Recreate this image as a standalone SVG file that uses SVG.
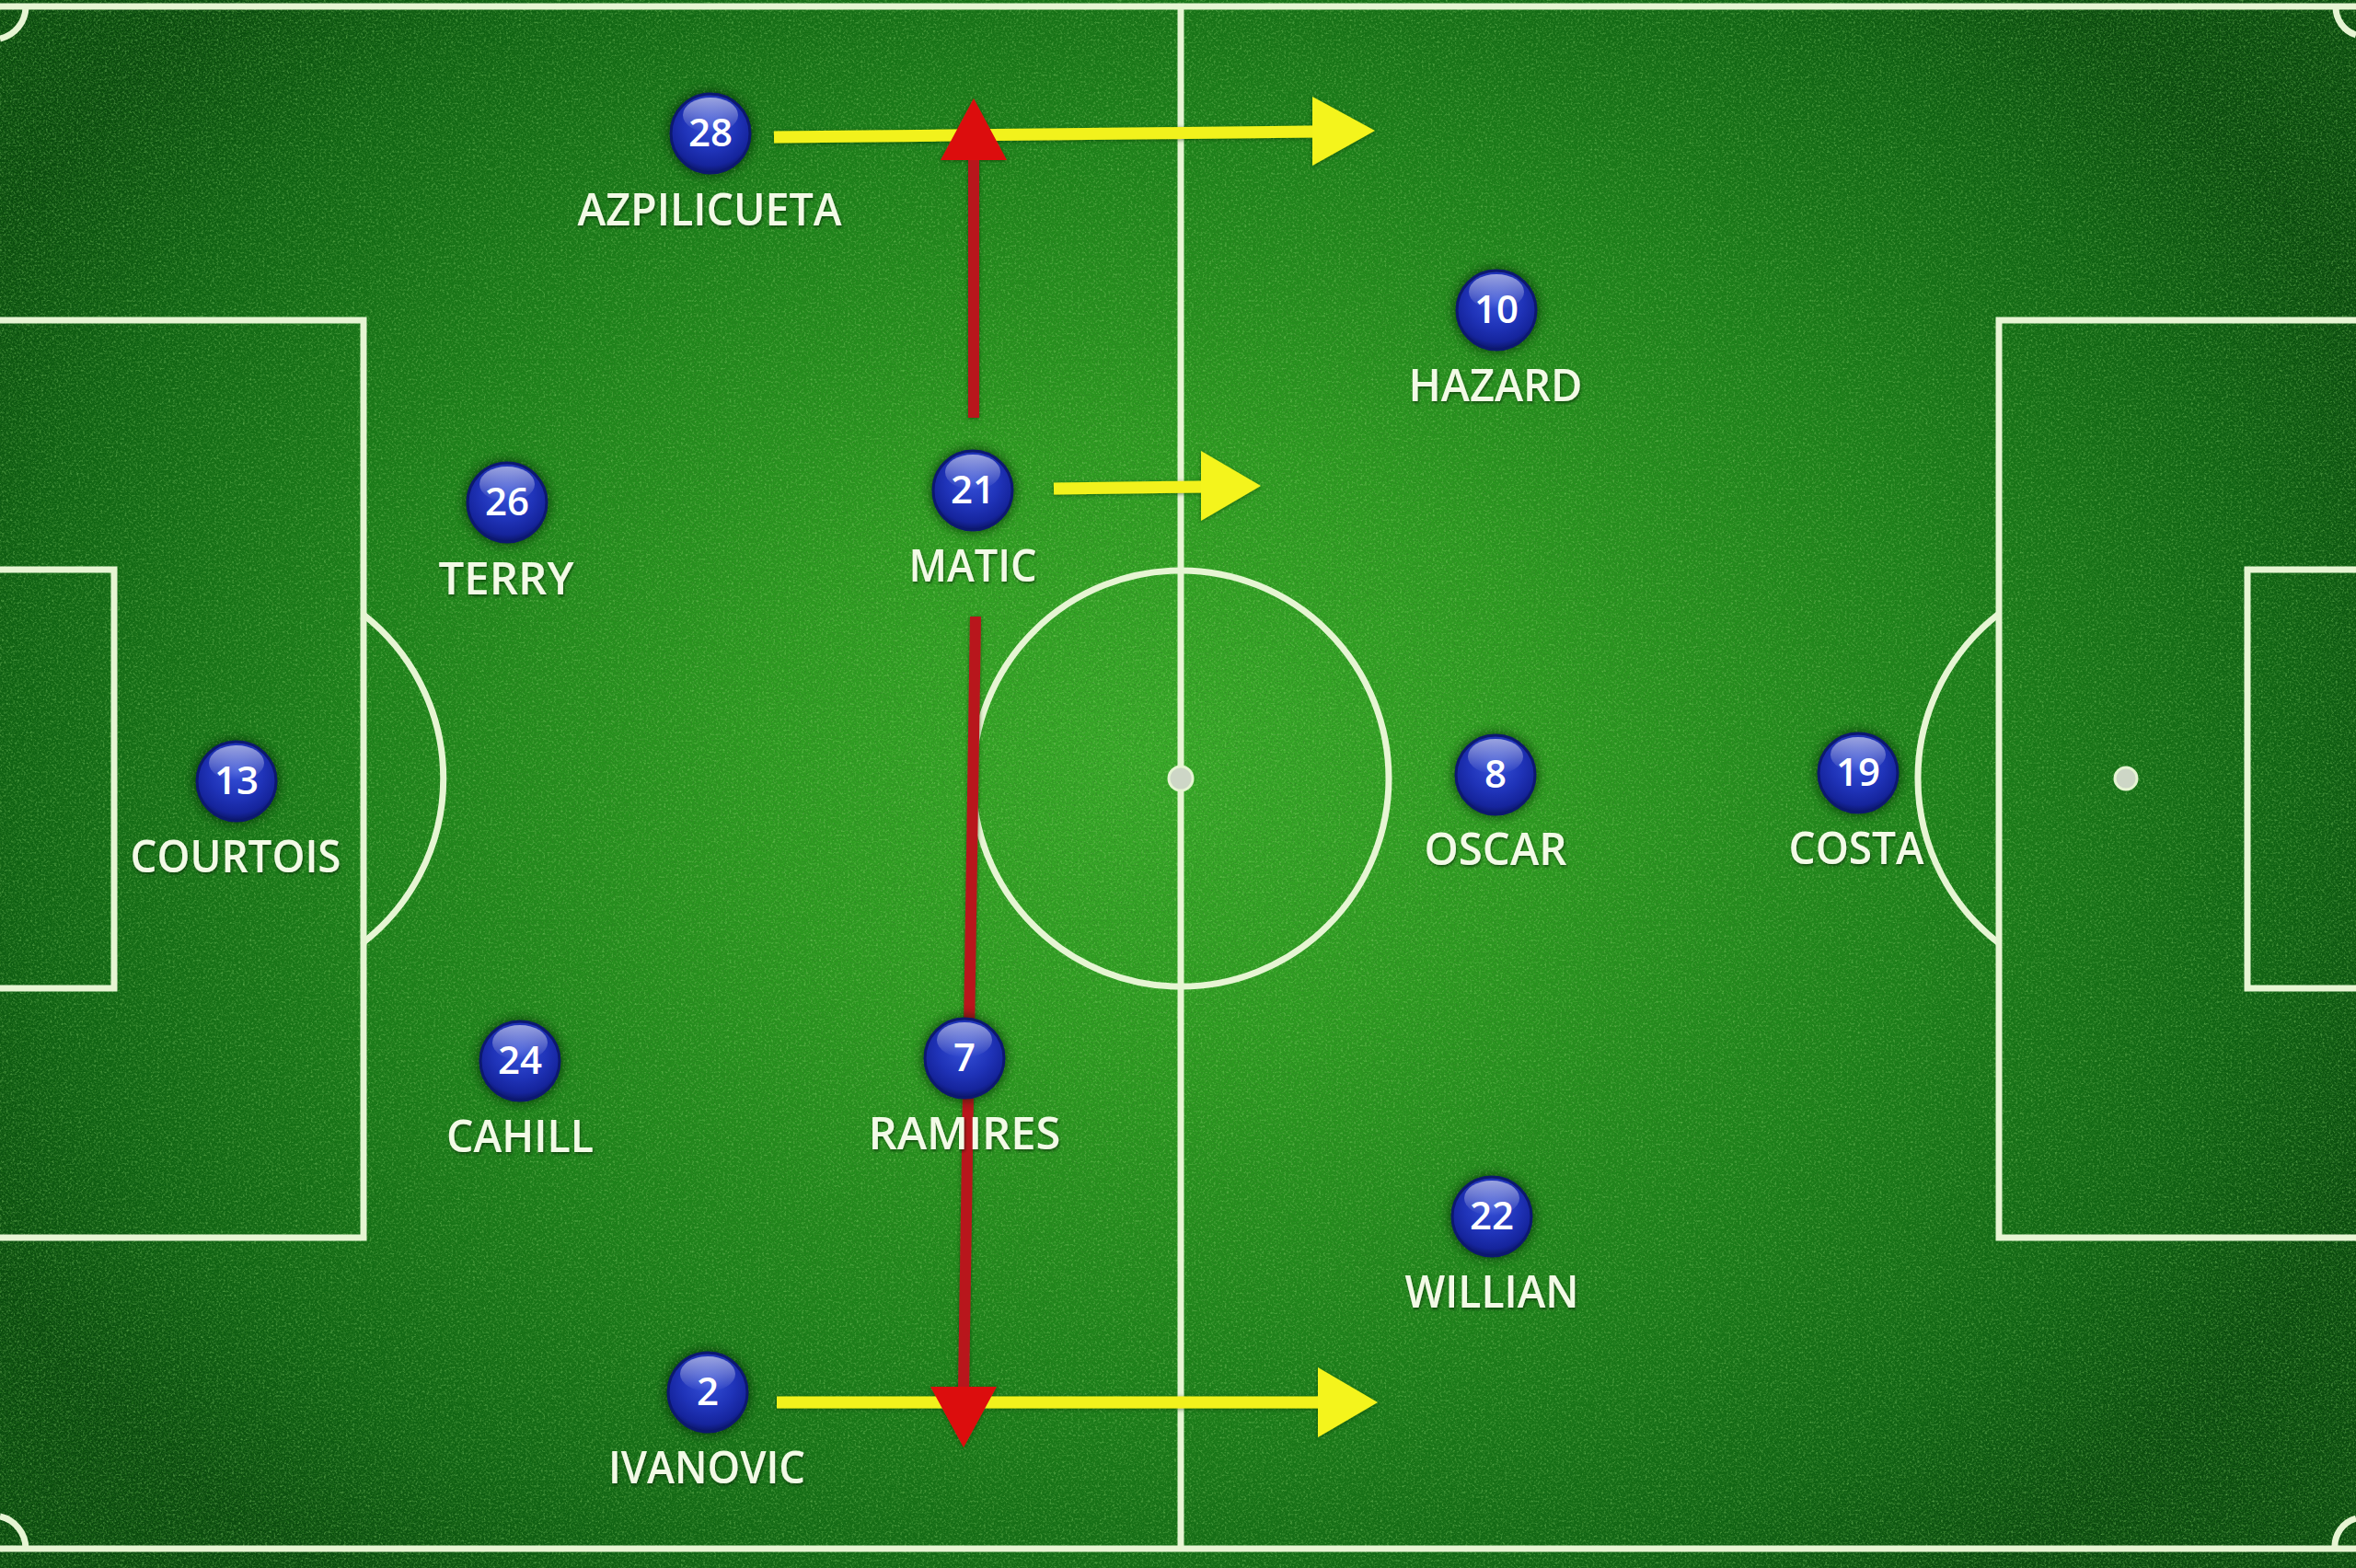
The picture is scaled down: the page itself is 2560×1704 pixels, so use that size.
<svg xmlns="http://www.w3.org/2000/svg" xmlns:xlink="http://www.w3.org/1999/xlink" width="2560" height="1704" viewBox="0 0 2560 1704">
<defs>
  <radialGradient id="grass" gradientUnits="userSpaceOnUse" cx="1250" cy="820" r="1450" gradientTransform="translate(1250 820) scale(1 0.78) translate(-1250 -820)">
    <stop offset="0" stop-color="#38aa28"/>
    <stop offset="0.3" stop-color="#2c9a20"/>
    <stop offset="0.6" stop-color="#1b7f19"/>
    <stop offset="0.85" stop-color="#0f6213"/>
    <stop offset="1" stop-color="#0a4a0e"/>
  </radialGradient>
  <filter id="grain" x="0" y="0" width="100%" height="100%" filterUnits="userSpaceOnUse">
    <feTurbulence type="fractalNoise" baseFrequency="0.55" numOctaves="2" seed="7" result="n"/>
    <feColorMatrix in="n" type="matrix" values="0 0 0 0 0.03  0 0 0 0 0.22  0 0 0 0 0.02  2.4 0 0 0 -1.05"/>
  </filter>
  <filter id="grain2" x="0" y="0" width="100%" height="100%" filterUnits="userSpaceOnUse">
    <feTurbulence type="fractalNoise" baseFrequency="0.42" numOctaves="2" seed="21" result="n"/>
    <feColorMatrix in="n" type="matrix" values="0 0 0 0 0.4  0 0 0 0 0.85  0 0 0 0 0.25  2.6 0 0 0 -1.3"/>
  </filter>
  <radialGradient id="ballGrad" cx="0.5" cy="0.38" r="0.62">
    <stop offset="0" stop-color="#3550d8"/>
    <stop offset="0.55" stop-color="#1f33b8"/>
    <stop offset="0.85" stop-color="#15249c"/>
    <stop offset="1" stop-color="#0b1668"/>
  </radialGradient>
  <linearGradient id="hl" x1="0" y1="0" x2="0" y2="1">
    <stop offset="0" stop-color="#ffffff" stop-opacity="0.55"/>
    <stop offset="1" stop-color="#ffffff" stop-opacity="0"/>
  </linearGradient>
  <filter id="blur6" x="-50%" y="-50%" width="200%" height="200%">
    <feGaussianBlur stdDeviation="5"/>
  </filter>
  <filter id="ts" x="-10%" y="-30%" width="120%" height="160%">
    <feDropShadow dx="1" dy="2" stdDeviation="1.5" flood-color="#002000" flood-opacity="0.6"/>
  </filter>
  <filter id="as" x="-10%" y="-10%" width="120%" height="120%">
    <feDropShadow dx="0" dy="1" stdDeviation="2" flood-color="#003000" flood-opacity="0.6"/>
  </filter>
  <g id="ball">
    <circle r="48" fill="#021a05" opacity="0.45" filter="url(#blur6)"/>
    <circle r="43" fill="url(#ballGrad)" stroke="#0c1870" stroke-width="3"/>
    <ellipse cx="0" cy="-20" rx="30" ry="19" fill="url(#hl)"/>
  </g>
  <style>
    .line { fill: none; stroke: #e6f5d3; stroke-width: 7; }
    .num { font-family: "Open Sans", "Noto Sans", sans-serif; font-weight: 600; font-size: 42px; fill: #ffffff; text-anchor: middle; }
    .name { font-family: "Open Sans", "Noto Sans", sans-serif; font-weight: 600; font-size: 49px; fill: #f2fae6; text-anchor: middle; }
    .yl { stroke: #f2f21a; stroke-width: 13; fill: none; }
    .yh { fill: #f4f41c; }
    .rl { stroke: #b8141c; stroke-width: 12; fill: none; }
    .rh { fill: #dc0a0e; }
  </style>
</defs>

<!-- pitch -->
<g id="pitch">
  <rect x="0" y="0" width="2560" height="1704" fill="url(#grass)"/>
  <rect x="0" y="0" width="2560" height="1704" filter="url(#grain)" opacity="0.65"/>
  <rect x="0" y="0" width="2560" height="1704" filter="url(#grain2)" opacity="0.4"/>
  <line class="line" x1="0" y1="7" x2="2560" y2="7"/>
  <line class="line" x1="0" y1="1683" x2="2560" y2="1683"/>
  <line class="line" x1="1283" y1="7" x2="1283" y2="1683"/>
  <circle class="line" cx="1283" cy="846" r="226"/>
  <circle cx="1283" cy="846" r="13" fill="#cdd6c6" stroke="#e6f5d3" stroke-width="3"/>
  <path class="line" d="M0 348 H395 V1345 H0"/>
  <path class="line" d="M0 619 H124 V1074 H0"/>
  <path class="line" d="M395 668 A226 226 0 0 1 395 1024"/>
  <path class="line" d="M2560 348 H2172 V1345 H2560"/>
  <path class="line" d="M2560 619 H2442 V1074 H2560"/>
  <path class="line" d="M2172 667 A226 226 0 0 0 2172 1025"/>
  <circle cx="2310" cy="846" r="12" fill="#cdd6c6" stroke="#e6f5d3" stroke-width="3"/>
  <path class="line" d="M28 7 A36 36 0 0 1 0 42"/>
  <path class="line" d="M2538 7 A32 32 0 0 0 2560 38"/>
  <path class="line" d="M0 1648 A36 36 0 0 1 28 1683"/>
  <path class="line" d="M2560 1650 A32 32 0 0 0 2537 1683"/>
</g>

<!-- connectors -->
<g id="connectors" filter="url(#as)">
  <line class="yl" x1="841" y1="149" x2="1430" y2="143"/>
  <polygon class="yh" points="1426,105 1494,142 1426,180"/>
  <line class="yl" x1="1145" y1="531" x2="1308" y2="529"/>
  <polygon class="yh" points="1305,490 1370,528 1305,566"/>
  <line class="yl" x1="844" y1="1524" x2="1435" y2="1524"/>
  <polygon class="yh" points="1432,1486 1497,1524 1432,1562"/>
  <line class="rl" x1="1058" y1="454" x2="1058" y2="170"/>
  <polygon class="rh" points="1022,174 1058,107 1094,174"/>
  <line class="rl" x1="1060" y1="670" x2="1047" y2="1512"/>
  <polygon class="rh" points="1011,1507 1083,1507 1047,1573"/>
</g>

<!-- players -->
<g id="p28"><use href="#ball" x="772" y="145"/><text class="num" x="772" y="159">28</text><text class="name" x="771" y="245" textLength="287" lengthAdjust="spacingAndGlyphs" filter="url(#ts)">AZPILICUETA</text></g>
<g id="p10"><use href="#ball" x="1626" y="337"/><text class="num" x="1626" y="351">10</text><text class="name" x="1625" y="436" textLength="189" lengthAdjust="spacingAndGlyphs" filter="url(#ts)">HAZARD</text></g>
<g id="p26"><use href="#ball" x="551" y="546"/><text class="num" x="551" y="560">26</text><text class="name" x="550" y="646" textLength="147" lengthAdjust="spacingAndGlyphs" filter="url(#ts)">TERRY</text></g>
<g id="p21"><use href="#ball" x="1057" y="533"/><text class="num" x="1057" y="547">21</text><text class="name" x="1057" y="632" textLength="139" lengthAdjust="spacingAndGlyphs" filter="url(#ts)">MATIC</text></g>
<g id="p13"><use href="#ball" x="257" y="849"/><text class="num" x="257" y="863">13</text><text class="name" x="256" y="948" textLength="229" lengthAdjust="spacingAndGlyphs" filter="url(#ts)">COURTOIS</text></g>
<g id="p8"><use href="#ball" x="1625" y="842"/><text class="num" x="1625" y="856">8</text><text class="name" x="1625" y="940" textLength="155" lengthAdjust="spacingAndGlyphs" filter="url(#ts)">OSCAR</text></g>
<g id="p19"><use href="#ball" x="2019" y="840"/><text class="num" x="2019" y="854">19</text><text class="name" x="2017" y="939" textLength="147" lengthAdjust="spacingAndGlyphs" filter="url(#ts)">COSTA</text></g>
<g id="p24"><use href="#ball" x="565" y="1153"/><text class="num" x="565" y="1167">24</text><text class="name" x="565" y="1252" textLength="160" lengthAdjust="spacingAndGlyphs" filter="url(#ts)">CAHILL</text></g>
<g id="p7"><use href="#ball" x="1048" y="1150"/><text class="num" x="1048" y="1164">7</text><text class="name" x="1048" y="1249" textLength="209" lengthAdjust="spacingAndGlyphs" filter="url(#ts)">RAMIRES</text></g>
<g id="p22"><use href="#ball" x="1621" y="1322"/><text class="num" x="1621" y="1336">22</text><text class="name" x="1621" y="1421" textLength="189" lengthAdjust="spacingAndGlyphs" filter="url(#ts)">WILLIAN</text></g>
<g id="p2"><use href="#ball" x="769" y="1513"/><text class="num" x="769" y="1527">2</text><text class="name" x="768" y="1612" textLength="214" lengthAdjust="spacingAndGlyphs" filter="url(#ts)">IVANOVIC</text></g>
</svg>
